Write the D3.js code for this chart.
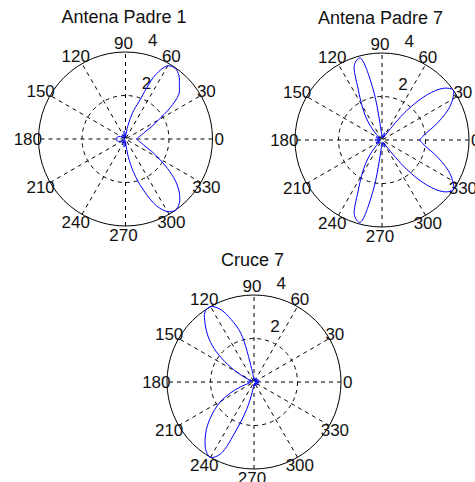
<!DOCTYPE html>
<html><head><meta charset="utf-8">
<script src="https://cdn.jsdelivr.net/npm/d3@7"></script>
<style>html,body{margin:0;padding:0;background:#fff;} svg{display:block;}</style>
</head><body>
<svg id="c" width="475" height="482"></svg>
<script>
// angle (degrees) of each sample
const angles = [0,5,10,15,20,25,30,35,40,45,50,55,60,65,70,75,80,85,90,95,100,105,110,115,120,125,130,135,140,145,150,155,160,165,170,175,180,185,190,195,200,205,210,215,220,225,230,235,240,245,250,255,260,265,270,275,280,285,290,295,300,305,310,315,320,325,330,335,340,345,350,355,360];

const padre1 = [0.52,0.56,0.65,0.78,0.95,1.3,1.75,2.5,3.2,3.5,3.82,3.97,3.88,3.25,1.85,1.25,0.6,0.2,0.12,0.3,0.38,0.3,0.12,0.05,0.15,0.22,0.25,0.2,0.1,0.05,0.15,0.25,0.33,0.38,0.4,0.4,0.4,0.4,0.4,0.38,0.33,0.25,0.15,0.05,0.1,0.2,0.25,0.22,0.15,0.05,0.12,0.3,0.38,0.3,0.12,0.35,1.0,1.8,2.6,3.4,3.85,4.0,3.85,3.5,3.0,2.35,1.75,1.3,0.95,0.78,0.65,0.56,0.52];

const padre7 = [1.72,1.88,2.12,2.5,2.92,3.38,3.75,4.0,3.7,2.95,1.75,0.4,0.15,0.3,0.35,0.28,0.12,0.1,0.15,0.4,2.4,3.9,3.7,2.6,1.86,1.3,0.8,0.35,0.12,0.2,0.3,0.3,0.2,0.1,0.2,0.3,0.32,0.3,0.2,0.1,0.2,0.3,0.3,0.2,0.12,0.35,0.8,1.3,1.86,2.6,3.7,3.92,2.4,0.4,0.15,0.1,0.12,0.28,0.35,0.3,0.15,0.4,1.75,2.95,3.7,4.0,3.75,3.38,2.92,2.5,2.12,1.88,1.72];

const cruce7 = [0.1,0.2,0.25,0.2,0.1,0.05,0.15,0.2,0.15,0.05,0.1,0.18,0.2,0.15,0.08,0.1,0.15,0.12,0.1,0.2,0.62,2.3,3.05,3.7,4.0,3.93,3.5,3.0,2.4,1.65,0.92,0.35,0.1,0.15,0.25,0.3,0.3,0.28,0.2,0.3,0.68,1.2,1.75,2.2,2.65,3.1,3.5,3.85,4.0,3.65,2.3,1.3,0.5,0.15,0.1,0.15,0.18,0.12,0.06,0.12,0.18,0.15,0.06,0.1,0.18,0.2,0.12,0.05,0.12,0.2,0.22,0.15,0.1];

const titles = ["Antena Padre 1", "Antena Padre 7", "Cruce 7"];
const spokeLabels = [0,30,60,90,120,150,180,210,240,270,300,330];
const ringTicks = [2,4];
const rMax = 4;

// layout
const panels = [
  {title: titles[0], values: padre1, cx: 125.5, cy: 139},
  {title: titles[1], values: padre7, cx: 382, cy: 140},
  {title: titles[2], values: cruce7, cx: 254, cy: 382}
];
const R = 87;
const FONT = "'Liberation Sans', Arial, Helvetica, sans-serif";

const svg = d3.select("#c");
const rs = d3.scaleLinear().domain([0, rMax]).range([0, R]);
const ang = d3.scaleLinear().domain([0, 360]).range([0, 2 * Math.PI]);
const c82 = Math.cos(ang(82)), s82 = Math.sin(ang(82));

panels.forEach(p => {
  const g = svg.append("g").attr("transform", `translate(${p.cx},${p.cy})`);

  // spokes (full diameters)
  const spokes = spokeLabels.filter(a => a > 0 && a <= 180);
  g.selectAll("line.spoke").data(spokes).join("line")
    .attr("class", "spoke")
    .attr("x1", a => -rs(rMax) * Math.cos(ang(a)))
    .attr("y1", a => rs(rMax) * Math.sin(ang(a)))
    .attr("x2", a => rs(rMax) * Math.cos(ang(a)))
    .attr("y2", a => -rs(rMax) * Math.sin(ang(a)))
    .attr("stroke", "#000").attr("stroke-width", 1)
    .attr("stroke-dasharray", "4,4");

  // rings
  g.selectAll("circle.ring").data(ringTicks).join("circle")
    .attr("class", "ring")
    .attr("r", t => rs(t))
    .attr("fill", "none")
    .attr("stroke", "#000").attr("stroke-width", 1)
    .attr("stroke-dasharray", t => t === rMax ? null : "4,4");

  // ring labels
  g.selectAll("text.rl").data(ringTicks).join("text")
    .attr("class", "rl")
    .attr("x", t => rs(t + 0.1) * c82 + 10)
    .attr("y", t => -rs(t + 0.1) * s82 - 5)
    .attr("font-family", FONT).attr("font-size", 17).attr("fill", "#111")
    .text(t => t);

  // angle labels
  g.selectAll("text.al").data(spokeLabels).join("text")
    .attr("class", "al")
    .attr("x", a => 1.1 * rs(rMax) * Math.cos(ang(a)) - 2)
    .attr("y", a => -1.1 * rs(rMax) * Math.sin(ang(a)))
    .attr("dy", "0.36em")
    .attr("text-anchor", "middle")
    .attr("font-family", FONT).attr("font-size", 17).attr("fill", "#111")
    .text(a => a);

  // data curve
  const line = d3.lineRadial()
    .angle(d => Math.PI / 2 - ang(d[0]))
    .radius(d => rs(d[1]))
    .curve(d3.curveCatmullRom.alpha(0.5));
  g.append("path")
    .datum(angles.map((a, i) => [a, p.values[i]]))
    .attr("d", line)
    .attr("fill", "none")
    .attr("stroke", "#0000ff")
    .attr("stroke-width", 1);

  // title
  g.append("text")
    .attr("x", -1.5).attr("y", -116)
    .attr("text-anchor", "middle")
    .attr("font-family", FONT).attr("font-size", 18).attr("fill", "#111")
    .text(p.title);
});
</script>
</body></html>
